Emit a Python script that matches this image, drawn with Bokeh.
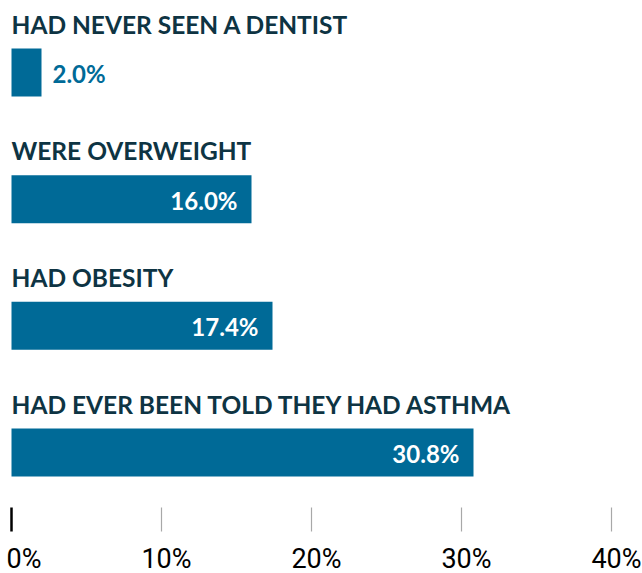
from bokeh.plotting import figure
from bokeh.models import Range1d, ColumnDataSource
from bokeh.core.properties import value
from bokeh.embed import file_html
from bokeh.resources import INLINE

# ---- data ----
categories = [
    "HAD NEVER SEEN A DENTIST",
    "WERE OVERWEIGHT",
    "HAD OBESITY",
    "HAD EVER BEEN TOLD THEY HAD ASTHMA",
]
values = [2.0, 16.0, 17.4, 30.8]
ticks = [0, 10, 20, 30, 40]
tick_labels = ["0%", "10%", "20%", "30%", "40%"]

# ---- layout ----
W, H = 642, 573
px_per_unit = 15.0
x0_px = 11.0
first_top = 48.0
pitch = 126.67
bar_h = 48.0

BAR = "#006a97"
TITLE = "#0e3443"

p = figure(width=W, height=H, output_backend="svg", toolbar_location=None,
           x_range=Range1d(-x0_px / px_per_unit, (W - x0_px) / px_per_unit),
           y_range=Range1d(H, 0), min_border=0)
p.axis.visible = False
p.grid.visible = False
p.outline_line_color = None
p.background_fill_color = "white"
p.border_fill_color = "white"

n = len(categories)
tops = [first_top + i * pitch for i in range(n)]
centers = [t + bar_h / 2 for t in tops]

src = ColumnDataSource(dict(
    cat=categories, val=values, y=centers,
    title_y=[t - 24.5 for t in tops],
))

p.hbar(y="y", left=0, right="val", height=bar_h, source=src,
       fill_color=BAR, line_color=None)

p.text(x=0, y="title_y", text="cat", source=src, text_font=value("Lato"),
       text_font_style="bold", text_font_size="24.5px", text_color=TITLE,
       text_baseline="middle", text_align="left")

inside = [i for i, v in enumerate(values) if v > 5]
outside = [i for i, v in enumerate(values) if v <= 5]

src_in = ColumnDataSource(dict(x=[values[i] for i in inside],
                               y=[centers[i] + 1 for i in inside],
                               t=["%.1f%%" % values[i] for i in inside]))
src_out = ColumnDataSource(dict(x=[values[i] for i in outside],
                                y=[centers[i] + 1 for i in outside],
                                t=["%.1f%%" % values[i] for i in outside]))

p.text(x="x", y="y", text="t", source=src_in, text_font=value("Lato"),
       text_font_style="bold", text_font_size="24px", text_color="white",
       text_align="right", text_baseline="middle", x_offset=-14)
p.text(x="x", y="y", text="t", source=src_out, text_font=value("Lato"),
       text_font_style="bold", text_font_size="24px", text_color=BAR,
       text_align="left", text_baseline="middle", x_offset=11)

# ticks
p.segment(x0=ticks[:1], x1=ticks[:1], y0=[507], y1=[531], line_color="black", line_width=2.5)
p.segment(x0=ticks[1:], x1=ticks[1:], y0=[507] * (len(ticks) - 1), y1=[531] * (len(ticks) - 1),
          line_color="#a8a8a8", line_width=1.2)

tick_font = value("Roboto")
p.text(x=ticks[:1], y=[558], text=tick_labels[:1], text_font=tick_font,
       text_font_size="27px", text_color="black", text_align="left",
       text_baseline="middle", x_offset=-5)
p.text(x=ticks[1:], y=[558] * (len(ticks) - 1), text=tick_labels[1:], text_font=tick_font,
       text_font_size="27px", text_color="black", text_align="center",
       text_baseline="middle", x_offset=5)

open("out.html", "w").write(file_html(p, INLINE))
